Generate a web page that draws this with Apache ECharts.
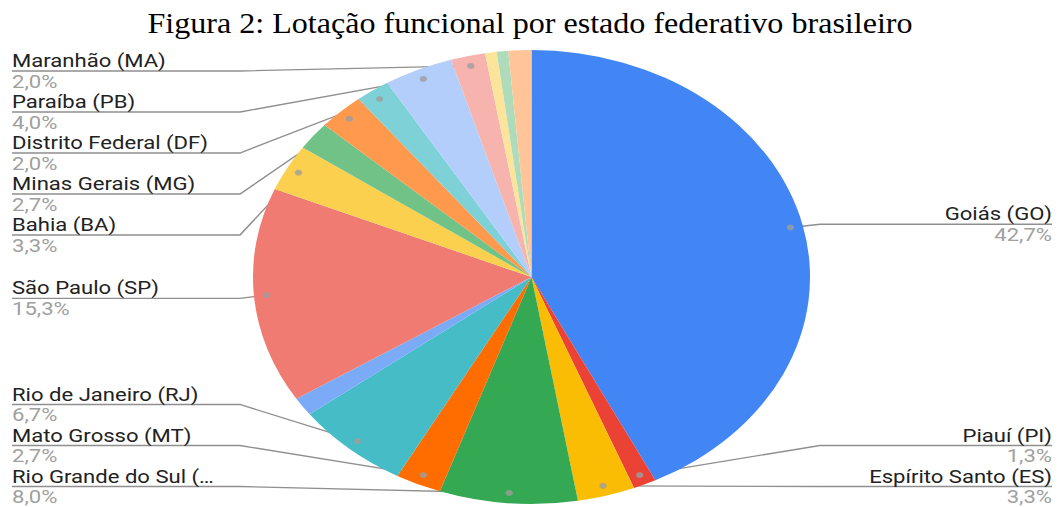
<!DOCTYPE html>
<html><head><meta charset="utf-8">
<script src="https://cdn.jsdelivr.net/npm/echarts@6/dist/echarts.min.js"></script>
<style>
html,body{margin:0;padding:0;background:#fff;overflow:hidden;}
#wrap{width:1060px;height:507px;position:relative;overflow:hidden;background:#fff;}
#chart{position:absolute;left:0;top:0;height:507px;transform-origin:0 0;}
</style></head><body>
<div id="wrap"><div id="chart"></div></div>
<script>
// ---- data (clockwise from 12 o'clock) ----
const titleText = 'Figura 2: Lotação funcional por estado federativo brasileiro';
const categories = ['Goiás (GO)', 'Piauí (PI)', 'Espírito Santo (ES)', 'Rio Grande do Sul (RS)', 'Mato Grosso (MT)', 'Rio de Janeiro (RJ)', 'Sem rótulo A', 'São Paulo (SP)', 'Bahia (BA)', 'Sem rótulo B', 'Minas Gerais (MG)', 'Distrito Federal (DF)', 'Paraíba (PB)', 'Maranhão (MA)', 'Sem rótulo C', 'Sem rótulo D', 'Sem rótulo E'];
const values = [64, 2, 5, 12, 4, 10, 2, 23, 5, 3, 4, 3, 6, 3, 1, 1, 2];
const labelShown = [true, true, true, true, true, true, false, true, true, false, true, true, true, true, false, false, false];
const colors = ['#4285F4', '#EA4335', '#FBBC04', '#34A853', '#FF6D01', '#46BDC6', '#7BAAF7', '#F07B72', '#FCD04F', '#71C287', '#FF994D', '#7ED1D7', '#B3CEFB', '#F7B4AE', '#FDE49B', '#AEDCBA', '#FFC599'];

// ---- layout ----
const PAGE_W = 1060, PAGE_H = 507;
const STRETCH = 1.227;               // reference image is stretched horizontally
const W = PAGE_W / STRETCH;
const CX = 531.5 / STRETCH, CY = 277, R = 227;
const VIEW_LEFT = 3.3, VIEW_TOP = 50.5;
const EDGE = 6.5;
const DOT_R = 0.955;
const ELBOW_L = 240 / STRETCH, ELBOW_R = 820 / STRETCH;
const MAX_CHARS = 21;
const LH = 20.5;

const total = values.reduce((a, b) => a + b, 0);
const fmtPct = v => (v / total * 100).toFixed(1).replace('.', ',') + '%';
const shortName = n => n.length > MAX_CHARS ? n.slice(0, 19) + '…' : n;

const chartEl = document.getElementById('chart');
chartEl.style.width = W + 'px';
chartEl.style.transform = 'scaleX(' + STRETCH + ')';
const chart = echarts.init(chartEl, null, {renderer: 'svg', width: W, height: PAGE_H});

const pieData = categories.map((name, i) => {
  const d = {name: name, value: values[i], itemStyle: {color: colors[i]}};
  if (!labelShown[i]) { d.label = {show: false}; d.labelLine = {show: false}; }
  return d;
});

// dot positions: mid-angle of each labelled slice, in data units
const dotData = [];
let cum = 0;
values.forEach((v, i) => {
  if (labelShown[i]) dotData.push([DOT_R, cum + v / 2]);
  cum += v;
});

const option = {
  animation: false,
  backgroundColor: '#fff',
  graphic: [{
    type: 'text', x: PAGE_W / 2 / STRETCH, y: 23, scaleX: 1.07 / STRETCH,
    style: {text: titleText, font: '30px "Liberation Serif"', fill: '#000',
      align: 'center', verticalAlign: 'middle', textAlign: 'center', textVerticalAlign: 'middle'}
  }],
  polar: {center: [CX, CY], radius: R},
  angleAxis: {type: 'value', min: 0, max: total, startAngle: 90, clockwise: true, show: false},
  radiusAxis: {type: 'value', min: 0, max: 1, show: false},
  series: [{
    type: 'pie',
    left: VIEW_LEFT, top: VIEW_TOP, right: 0, bottom: 0,
    center: [CX - VIEW_LEFT, CY - VIEW_TOP],
    radius: R,
    startAngle: 90, clockwise: true,
    avoidLabelOverlap: true,
    label: {
      show: true, position: 'outside', alignTo: 'edge', edgeDistance: EDGE, minMargin: 0,
      fontFamily: 'Roboto', fontSize: 18, lineHeight: LH,
      formatter: p => '{n|' + shortName(p.name) + '}\n{p|' + fmtPct(p.value) + '}',
      rich: {
        n: {fontFamily: 'Roboto', fontSize: 18, color: '#222', lineHeight: LH},
        p: {fontFamily: 'Roboto', fontSize: 18, color: '#a0a0a0', lineHeight: LH}
      }
    },
    labelLine: {show: true, length: 4, length2: 0, lineStyle: {color: '#8f8f8f', width: 1.3}},
    labelLayout: function (params) {
      if (!params.labelLinePoints) return {};
      const rect = params.labelRect;
      const pts = params.labelLinePoints.map(p => p.slice());
      const isLeft = rect.x + rect.width / 2 < CX;
      const ly = rect.y + rect.height / 2;
      pts[0] = [CX + (pts[0][0] - CX) * DOT_R, CY + (pts[0][1] - CY) * DOT_R];
      pts[1] = [isLeft ? ELBOW_L : ELBOW_R, ly];
      pts[2] = [isLeft ? rect.x : rect.x + rect.width, ly];
      return {labelLinePoints: pts};
    },
    data: pieData,
    z: 2
  }, {
    type: 'scatter', coordinateSystem: 'polar', data: dotData,
    symbol: 'circle', symbolSize: 6, itemStyle: {color: '#9e9e9e'}, z: 5, silent: true
  }]
};
chart.setOption(option);
</script>
</body></html>
